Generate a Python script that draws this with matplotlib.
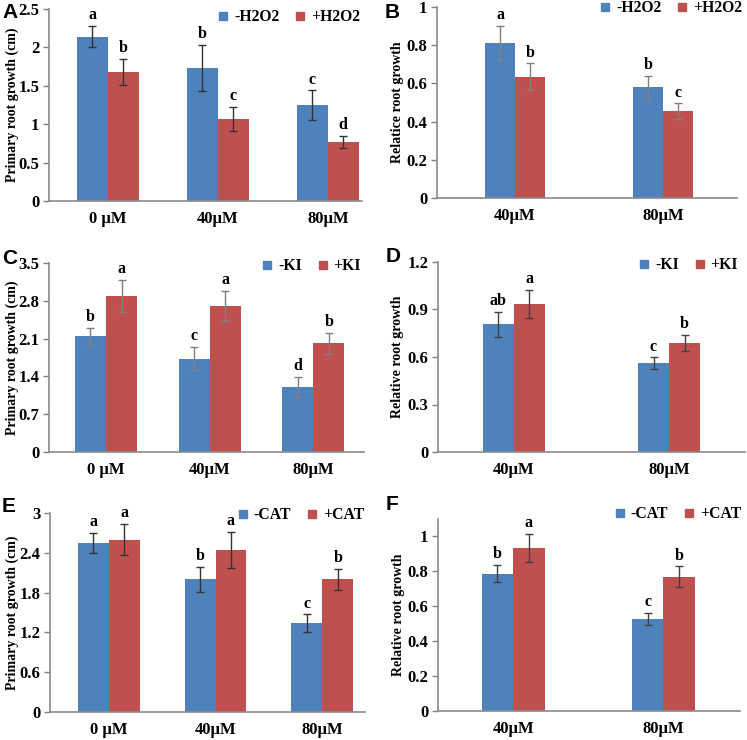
import numpy as np
import matplotlib
matplotlib.use("Agg")
import matplotlib.pyplot as plt
from matplotlib.lines import Line2D
from matplotlib.ticker import MultipleLocator, FuncFormatter

plt.rcParams['font.family'] = ['Liberation Serif', 'DejaVu Serif']
plt.rcParams['font.weight'] = 'bold'

W, H = 747, 740
BLUE = '#4F81BD'
RED = '#C0504D'

# --- data ---
conc3 = ['0 \u00b5M', '40\u00b5M', '80\u00b5M']
conc2 = ['40\u00b5M', '80\u00b5M']

a_minus = [2.14, 1.73, 1.25]
a_minus_err = [0.14, 0.30, 0.19]
a_plus = [1.68, 1.07, 0.77]
a_plus_err = [0.17, 0.16, 0.08]
a_minus_sig = ['a', 'b', 'c']
a_plus_sig = ['b', 'c', 'd']

b_minus = [0.81, 0.58]
b_minus_err = [0.09, 0.06]
b_plus = [0.635, 0.455]
b_plus_err = [0.07, 0.04]
b_minus_sig = ['a', 'b']
b_plus_sig = ['b', 'c']

c_minus = [2.14, 1.73, 1.20]
c_minus_err = [0.16, 0.21, 0.19]
c_plus = [2.89, 2.71, 2.01]
c_plus_err = [0.30, 0.28, 0.20]
c_minus_sig = ['b', 'c', 'd']
c_plus_sig = ['a', 'a', 'b']

d_minus = [0.806, 0.562]
d_minus_err = [0.08, 0.035]
d_plus = [0.934, 0.688]
d_plus_err = [0.09, 0.05]
d_minus_sig = ['ab', 'c']
d_plus_sig = ['a', 'b']

e_minus = [2.55, 2.00, 1.34]
e_minus_err = [0.155, 0.19, 0.13]
e_plus = [2.60, 2.44, 2.00]
e_plus_err = [0.24, 0.27, 0.16]
e_minus_sig = ['a', 'b', 'c']
e_plus_sig = ['a', 'a', 'b']

f_minus = [0.787, 0.526]
f_minus_err = [0.05, 0.036]
f_plus = [0.935, 0.768]
f_plus_err = [0.08, 0.06]
f_minus_sig = ['b', 'c']
f_plus_sig = ['a', 'b']

fig = plt.figure(figsize=(W / 100, H / 100), dpi=100)


def px_box(x0, x1, ytop, ybot):
    return [x0 / W, 1 - ybot / H, (x1 - x0) / W, (ybot - ytop) / H]


def panel(box, letter, letter_xy, cats, minus, minus_err, plus, plus_err,
          minus_sig, plus_sig, names, ylim, step, xlim, width, ylabel,
          label_x, legend_xy, ecolor):
    ax = fig.add_axes(px_box(*box))
    x = np.arange(len(cats))
    ekw = dict(ecolor=ecolor, elinewidth=1, capsize=3, capthick=1)
    ax.bar(x - width / 2, minus, width, color=BLUE, yerr=minus_err,
           error_kw=ekw, zorder=2)
    ax.bar(x + width / 2, plus, width, color=RED, yerr=plus_err,
           error_kw=ekw, zorder=2)
    for xi, v, e, s in zip(x - width / 2, minus, minus_err, minus_sig):
        ax.annotate(s, (xi, v + e), xytext=(0, 2), textcoords='offset points',
                    ha='center', va='bottom', fontsize=11.5, fontweight='bold')
    for xi, v, e, s in zip(x + width / 2, plus, plus_err, plus_sig):
        ax.annotate(s, (xi, v + e), xytext=(0, 2), textcoords='offset points',
                    ha='center', va='bottom', fontsize=11.5, fontweight='bold')

    ax.set_xlim(*xlim)
    ax.set_ylim(*ylim)
    ax.yaxis.set_major_locator(MultipleLocator(step))
    ax.yaxis.set_major_formatter(FuncFormatter(lambda v, p: '%g' % round(v, 2)))
    ax.set_xticks(x)
    ax.set_xticklabels(cats)
    ax.tick_params(axis='x', length=0, pad=7, labelsize=12)
    ax.tick_params(axis='y', length=4, width=1, pad=3, labelsize=12,
                   color='#808080', direction='out')
    for lab in ax.get_xticklabels() + ax.get_yticklabels():
        lab.set_fontweight('bold')
    for sp in ['top', 'right']:
        ax.spines[sp].set_visible(False)
    for sp in ['left', 'bottom']:
        ax.spines[sp].set_color('#8a8a8a')
        ax.spines[sp].set_linewidth(1.2)

    ax.set_ylabel(ylabel, fontsize=10, fontweight='bold')
    ax.yaxis.set_label_coords((label_x + 7) / W,
                              1 - (box[2] + box[3]) / 2 / H,
                              transform=fig.transFigure)

    handles = [Line2D([], [], marker='s', ls='', color=BLUE, markersize=5.5),
               Line2D([], [], marker='s', ls='', color=RED, markersize=5.5)]
    ax.legend(handles, names, loc='center right',
              bbox_to_anchor=(legend_xy[0] / W, 1 - legend_xy[1] / H),
              bbox_transform=fig.transFigure, ncol=2, frameon=False,
              handlelength=0.8, handletextpad=0.3, columnspacing=0.9,
              borderpad=0, borderaxespad=0,
              prop=dict(family='Liberation Serif', weight='bold', size=11.3))

    fig.text(letter_xy[0] / W, 1 - letter_xy[1] / H, letter,
             family='Liberation Sans', fontweight='bold', fontsize=15,
             ha='left', va='center')
    return ax


panel((49, 362, 9, 201), 'A', (2, 13), conc3, a_minus, a_minus_err, a_plus,
      a_plus_err, a_minus_sig, a_plus_sig, ['-H2O2', '+H2O2'], (0, 2.5), 0.5,
      (-0.534, 2.31), 0.28, 'Primary root growth (cm)', 12, (360, 17), '#333333')

panel((437, 737, 7, 198), 'B', (385, 13), conc2, b_minus, b_minus_err, b_plus,
      b_plus_err, b_minus_sig, b_plus_sig, ['-H2O2', '+H2O2'], (0, 1), 0.2,
      (-0.527, 1.5), 0.2, 'Relatice root growth', 397, (742, 8), '#808080')

panel((49, 364, 263, 452), 'C', (2, 258), conc3, c_minus, c_minus_err, c_plus,
      c_plus_err, c_minus_sig, c_plus_sig, ['-KI', '+KI'], (0, 3.5), 0.7,
      (-0.55, 2.49), 0.3, 'Primary root growth (cm)', 12, (361, 266), '#808080')

panel((438, 745, 262, 452), 'D', (386, 257), conc2, d_minus, d_minus_err, d_plus,
      d_plus_err, d_minus_sig, d_plus_sig, ['-KI', '+KI'], (0, 1.2), 0.3,
      (-0.49, 1.49), 0.2, 'Relative root growth', 397, (738, 265), '#404040')

panel((50, 365, 513, 712), 'E', (2, 506), conc3, e_minus, e_minus_err, e_plus,
      e_plus_err, e_minus_sig, e_plus_sig, ['-CAT', '+CAT'], (0, 3), 0.6,
      (-0.55, 2.4), 0.29, 'Primary root growth (cm)', 12, (364, 515), '#333333')

panel((438, 740, 519, 711), 'F', (386, 505), conc2, f_minus, f_minus_err, f_plus,
      f_plus_err, f_minus_sig, f_plus_sig, ['-CAT', '+CAT'], (0, 1.1), 0.2,
      (-0.5, 1.51), 0.21, 'Relative root growth', 398, (741, 514), '#404040')

fig.savefig('out.png', dpi=100)
